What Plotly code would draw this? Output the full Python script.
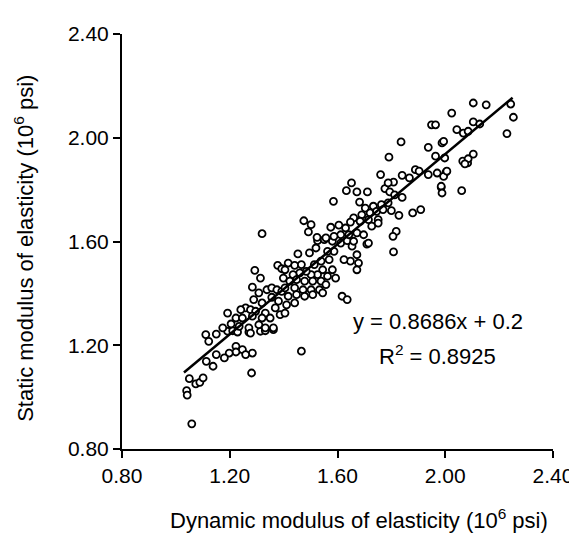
import plotly.graph_objects as go

# Dynamic (x) vs static (y) modulus of elasticity, 10^6 psi
dyn = [
    1.111, 1.122, 1.150, 1.192, 1.211, 1.229, 1.271, 1.314, 1.332, 1.362,
    1.223, 1.247, 1.284, 1.259, 1.223, 1.198, 1.180, 1.150, 1.113, 1.138,
    1.281, 1.050, 1.074, 1.089, 1.101, 1.040, 1.042, 1.059,
    1.293, 1.314, 1.378, 1.393, 1.284, 1.308, 1.338, 1.356, 1.375, 1.393,
    1.289, 1.320, 1.356, 1.381, 1.259, 1.277, 1.241, 1.296, 1.332, 1.369,
    1.387, 1.192, 1.223, 1.205, 1.247, 1.284, 1.320, 1.350, 1.174, 1.235,
    1.271, 1.308, 1.332, 1.362, 1.277,
    1.453, 1.417, 1.441, 1.466, 1.496, 1.520, 1.526, 1.551, 1.581, 1.612,
    1.636, 1.654, 1.672, 1.678, 1.672, 1.648, 1.624, 1.587, 1.563, 1.569,
    1.539, 1.514, 1.545, 1.581, 1.593, 1.563, 1.526, 1.502, 1.484, 1.460,
    1.435, 1.405, 1.399, 1.423, 1.448, 1.478, 1.508, 1.539, 1.557, 1.533,
    1.502, 1.472, 1.441, 1.405, 1.545, 1.448, 1.478, 1.508, 1.417, 1.441,
    1.411, 1.405, 1.617, 1.636, 1.466, 1.709, 1.320,
    1.836, 1.937, 1.791, 1.760, 1.808, 1.840, 1.867, 1.889, 1.903, 1.937,
    1.776, 1.794, 1.812, 1.840, 1.788, 1.652, 1.633, 1.672, 1.711, 1.585,
    1.682, 1.703, 1.733, 1.763, 1.788, 1.721, 1.745, 1.769, 1.800, 1.828,
    1.690, 1.660, 1.684, 1.715, 1.751, 1.727, 1.751, 1.879, 1.909, 1.475,
    1.502, 1.492, 1.524, 1.575, 1.605, 1.630, 1.648, 1.612, 1.587, 1.642,
    1.672, 1.697, 1.660, 1.715, 1.557, 1.818, 1.806, 1.808,
    1.970, 2.003, 1.985, 2.061, 2.083, 2.065,
    2.104, 2.152, 2.243, 2.253, 2.229, 2.024, 1.949, 1.964, 2.104, 2.128,
    2.043, 2.067, 2.085, 1.988, 1.994, 1.964, 1.998, 2.104, 2.085, 2.073,
    1.994, 2.006, 1.985, 1.988,
]
stat = [
    1.241, 1.215, 1.243, 1.254, 1.256, 1.251, 1.251, 1.254, 1.256, 1.260,
    1.196, 1.183, 1.170, 1.164, 1.174, 1.170, 1.151, 1.164, 1.138, 1.119,
    1.093, 1.071, 1.051, 1.057, 1.074, 1.025, 1.008, 0.897,
    1.489, 1.459, 1.508, 1.495, 1.424, 1.402, 1.414, 1.421, 1.414, 1.408,
    1.376, 1.363, 1.385, 1.370, 1.344, 1.337, 1.337, 1.331, 1.324, 1.344,
    1.318, 1.324, 1.305, 1.282, 1.305, 1.312, 1.305, 1.305, 1.267, 1.273,
    1.267, 1.279, 1.267, 1.267, 1.247,
    1.552, 1.517, 1.508, 1.511, 1.556, 1.575, 1.603, 1.607, 1.601, 1.594,
    1.603, 1.582, 1.549, 1.517, 1.491, 1.524, 1.530, 1.562, 1.562, 1.530,
    1.524, 1.511, 1.491, 1.491, 1.459, 1.466, 1.472, 1.472, 1.485, 1.479,
    1.472, 1.491, 1.459, 1.447, 1.453, 1.447, 1.447, 1.447, 1.434, 1.414,
    1.414, 1.414, 1.421, 1.421, 1.402, 1.395, 1.389, 1.395, 1.389, 1.363,
    1.356, 1.324, 1.389, 1.376, 1.177, 1.590, 1.630,
    1.984, 1.963, 1.925, 1.858, 1.829, 1.855, 1.845, 1.877, 1.871, 1.858,
    1.804, 1.791, 1.780, 1.770, 1.826, 1.826, 1.796, 1.791, 1.791, 1.755,
    1.752, 1.729, 1.736, 1.742, 1.749, 1.710, 1.716, 1.723, 1.719, 1.701,
    1.703, 1.691, 1.678, 1.684, 1.684, 1.659, 1.671, 1.710, 1.723, 1.680,
    1.665, 1.637, 1.616, 1.655, 1.663, 1.652, 1.675, 1.626, 1.620, 1.626,
    1.633, 1.626, 1.601, 1.594, 1.614, 1.639, 1.620, 1.560,
    1.864, 1.868, 1.809, 1.796, 1.903, 1.910,
    2.134, 2.127, 2.130, 2.079, 2.016, 2.095, 2.050, 2.050, 2.061, 2.053,
    2.031, 2.018, 2.025, 1.980, 1.986, 1.929, 1.922, 1.937, 1.919, 1.899,
    1.851, 1.871, 1.813, 1.787,
]

slope = 0.8686
intercept = 0.2
r2 = 0.8925
fit_x = [1.03, 2.25]
fit_y = [slope * v + intercept for v in fit_x]

tick_vals = [0.8, 1.2, 1.6, 2.0, 2.4]
tick_text = ["0.80", "1.20", "1.60", "2.00", "2.40"]

x_title = "Dynamic modulus of elasticity (10<sup>6</sup> psi)"
y_title = "Static modulus of elasticity (10<sup>6</sup> psi)"

FONT = "Liberation Sans, Arial, sans-serif"

fig = go.Figure()
fig.add_trace(go.Scatter(
    x=dyn, y=stat, mode="markers",
    marker=dict(symbol="circle", size=7, color="white",
                line=dict(color="black", width=1.8)),
    showlegend=False, hoverinfo="x+y",
))
fig.add_trace(go.Scatter(
    x=fit_x, y=fit_y, mode="lines",
    line=dict(color="black", width=2.5), showlegend=False,
))

axis_common = dict(
    range=[0.8, 2.4], tickvals=tick_vals, ticktext=tick_text,
    showgrid=False, zeroline=False, showline=True, linecolor="black",
    linewidth=2, ticks="outside", ticklen=7, tickwidth=2, tickcolor="black",
    tickfont=dict(family=FONT, size=21, color="black"),
)

fig.update_layout(
    width=577, height=540,
    margin=dict(l=114, r=24, t=26, b=99),
    paper_bgcolor="white", plot_bgcolor="white",
    font=dict(family=FONT, color="black"),
    xaxis=dict(**axis_common),
    yaxis=dict(**axis_common),
    annotations=[
        dict(x=0.549, y=-0.168, xref="paper", yref="paper", showarrow=False,
             text=x_title, xanchor="center", yanchor="middle",
             font=dict(family=FONT, size=22, color="black")),
        dict(x=-0.228, y=0.484, xref="paper", yref="paper", showarrow=False,
             text=y_title, textangle=-90, xanchor="center", yanchor="middle",
             font=dict(family=FONT, size=22, color="black")),
        dict(x=1.973, y=1.29, xref="x", yref="y", showarrow=False,
             text=f"y = {slope}x + {intercept}",
             font=dict(family=FONT, size=22, color="black")),
        dict(x=1.973, y=1.163, xref="x", yref="y", showarrow=False,
             text=f"R<sup>2</sup> = {r2}",
             font=dict(family=FONT, size=22, color="black")),
    ],
)

fig.write_html("out.html")
